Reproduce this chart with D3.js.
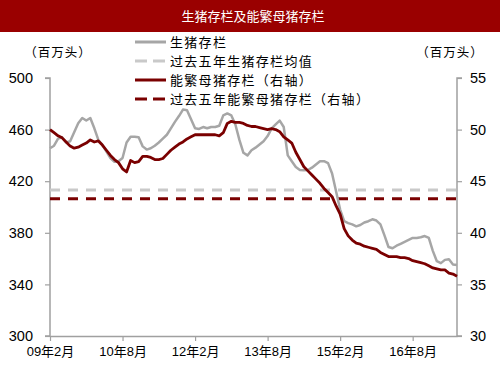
<!DOCTYPE html>
<html>
<head>
<meta charset="utf-8">
<script src="https://cdn.jsdelivr.net/npm/d3@7"></script>
<style>
    html, body { margin: 0; padding: 0; background: #fff; }
    svg { display: block; font-family: "Liberation Sans", Arial, "Noto Sans CJK SC", sans-serif; }
    .cjk { font-family: "Noto Sans CJK SC", sans-serif; }
</style>
</head>
<body>
<div id="chart"></div>
<script>
(function () {
    "use strict";

    // monthly, 09年2月 .. 17年7月
    const months = d3.timeMonth.range(new Date(2009, 1, 1), new Date(2017, 7, 1))
        .map(d => d3.timeFormat("%y")(d) + "年" + (d.getMonth() + 1) + "月");

    const tickIndex = [0, 18, 36, 54, 72, 90];

    // 生猪存栏 (百万头, left axis)
    const hogStock = [
        445.5, 447.5, 453, 454, 450, 451, 458, 465, 469, 467,
        469, 461, 452, 448, 443, 438, 435, 435.5, 438, 450,
        454.5, 454.5, 454, 447, 444.5, 445.5, 447.5, 450, 453, 456,
        461, 466, 470.5, 475.5, 475, 468, 461, 460.5, 462, 461,
        462, 462, 463, 471, 472.5, 471, 464, 452, 442, 440,
        444, 446, 448.5, 451, 455, 461, 464, 467, 462, 440,
        435.5, 431, 428.7, 428.5, 428.7, 430.5, 433, 435.5, 435.5, 434,
        426, 412, 398, 389, 387.5, 386.5, 385, 386, 388, 389,
        390.5, 389.5, 386.5, 378, 369, 368, 370, 371.5, 373, 374.5,
        376, 376, 376.5, 377.5, 376, 366, 358, 356.5, 359, 359.5,
        355.5, 355
    ];

    // 能繁母猪存栏 (百万头, right axis)
    const sowStock = [
        50.0, 49.7, 49.4, 49.2, 48.8, 48.4, 48.2, 48.3, 48.5, 48.7,
        49.0, 48.8, 48.9, 48.5, 48.0, 47.5, 47.1, 46.8, 46.2, 45.9,
        47.0, 46.8, 46.9, 47.4, 47.4, 47.3, 47.1, 47.1, 47.2, 47.6,
        48.0, 48.3, 48.6, 48.8, 49.1, 49.3, 49.5, 49.5, 49.5, 49.5,
        49.5, 49.5, 49.4, 49.7, 50.6, 50.8, 50.7, 50.7, 50.6, 50.4,
        50.3, 50.3, 50.2, 50.1, 50.0, 50.1, 50.0, 49.8, 49.3, 49.0,
        48.7, 47.8, 47.1, 46.4, 46.0, 45.6, 45.2, 44.8, 44.3, 43.9,
        43.5, 42.6, 41.8, 40.4, 39.7, 39.3, 39.0, 38.9, 38.7, 38.6,
        38.5, 38.4, 38.1, 37.9, 37.7, 37.7, 37.7, 37.6, 37.6, 37.5,
        37.3, 37.2, 37.1, 37.0, 36.8, 36.6, 36.5, 36.4, 36.4, 36.1,
        36.0, 35.8
    ];

    const hogAvg = 413.2;   // 过去五年生猪存栏均值
    const sowAvg = 43.3;    // 过去五年能繁母猪存栏

    const leftTicks = [300, 340, 380, 420, 460, 500];
    const rightTicks = [30, 35, 40, 45, 50, 55];

    const width = 500;
    const height = 375;
    const margin = { top: 78, right: 43, bottom: 39, left: 50 };

    const gray = "#a6a6a6";
    const grayDash = "#c9c9c9";
    const red = "#7a0000";
    const axisColor = "#a0a0a0";

    const svg = d3.select("#chart").append("svg")
        .attr("width", width)
        .attr("height", height);

    // title bar
    svg.append("rect")
        .attr("width", width)
        .attr("height", 32)
        .attr("fill", "#9a0000");

    svg.append("text")
        .attr("class", "cjk")
        .attr("x", 253)
        .attr("y", 21)
        .attr("text-anchor", "middle")
        .attr("fill", "#fff")
        .attr("font-size", 13)
        .text("生猪存栏及能繁母猪存栏");

    const x = d3.scaleLinear()
        .domain([0, months.length - 1])
        .range([margin.left, width - margin.right]);

    const yLeft = d3.scaleLinear()
        .domain([300, 500])
        .range([height - margin.bottom, margin.top]);

    const yRight = d3.scaleLinear()
        .domain([30, 55])
        .range([height - margin.bottom, margin.top]);

    // axes
    const leftAxis = svg.append("g")
        .attr("transform", `translate(${margin.left},0)`)
        .call(d3.axisLeft(yLeft).tickValues(leftTicks).tickSize(5).tickPadding(12));

    const rightAxis = svg.append("g")
        .attr("transform", `translate(${width - margin.right},0)`)
        .call(d3.axisRight(yRight).tickValues(rightTicks).tickSize(5).tickPadding(8));

    const bottomAxis = svg.append("g")
        .attr("transform", `translate(0,${height - margin.bottom})`)
        .call(d3.axisBottom(x).tickValues(tickIndex).tickFormat(i => months[i])
            .tickSize(5).tickPadding(6).tickSizeOuter(0));

    [leftAxis, rightAxis, bottomAxis].forEach(g => {
        g.select(".domain").attr("stroke", axisColor).attr("stroke-width", 1.5);
        g.selectAll(".tick line").attr("stroke", axisColor).attr("stroke-width", 1.2);
        g.selectAll(".tick text")
            .attr("fill", "#000")
            .attr("font-size", 14.5)
            .attr("font-family", "\"Liberation Sans\", Arial, sans-serif");
    });

    leftAxis.selectAll(".domain").attr("d", `M-5,${margin.top}H0V${height - margin.bottom}H-5`);
    rightAxis.selectAll(".domain").attr("d", `M5,${margin.top}H0V${height - margin.bottom}H5`);

    bottomAxis.selectAll(".tick text")
        .attr("font-size", 13)
        .attr("font-family", "\"Liberation Sans\", Arial, \"Noto Sans CJK SC\", sans-serif");

    // unit labels
    svg.append("text")
        .attr("class", "cjk")
        .attr("x", 58)
        .attr("y", 57)
        .attr("text-anchor", "middle")
        .attr("font-size", 12.5)
        .attr("letter-spacing", 1)
        .text("（百万头）");

    svg.append("text")
        .attr("class", "cjk")
        .attr("x", 450)
        .attr("y", 57)
        .attr("text-anchor", "middle")
        .attr("font-size", 12.5)
        .attr("letter-spacing", 1)
        .text("（百万头）");

    // average lines
    svg.append("line")
        .attr("x1", x(0)).attr("x2", x(months.length - 1))
        .attr("y1", yLeft(hogAvg)).attr("y2", yLeft(hogAvg))
        .attr("stroke", grayDash)
        .attr("stroke-width", 3)
        .attr("stroke-dasharray", "10,8");

    svg.append("line")
        .attr("x1", x(0)).attr("x2", x(months.length - 1))
        .attr("y1", yRight(sowAvg)).attr("y2", yRight(sowAvg))
        .attr("stroke", red)
        .attr("stroke-width", 3)
        .attr("stroke-dasharray", "10,8");

    // series
    const hogLine = d3.line()
        .x((d, i) => x(i))
        .y(d => yLeft(d));

    const sowLine = d3.line()
        .x((d, i) => x(i))
        .y(d => yRight(d));

    svg.append("path")
        .datum(hogStock)
        .attr("d", hogLine)
        .attr("fill", "none")
        .attr("stroke", gray)
        .attr("stroke-width", 2.5)
        .attr("stroke-linejoin", "round");

    svg.append("path")
        .datum(sowStock)
        .attr("d", sowLine)
        .attr("fill", "none")
        .attr("stroke", red)
        .attr("stroke-width", 2.8)
        .attr("stroke-linejoin", "round");

    // legend
    const legendItems = [
        { label: "生猪存栏", color: gray, dash: null },
        { label: "过去五年生猪存栏均值", color: grayDash, dash: "12,6" },
        { label: "能繁母猪存栏（右轴）", color: red, dash: null },
        { label: "过去五年能繁母猪存栏（右轴）", color: red, dash: "12,6" }
    ];

    const legend = svg.append("g")
        .selectAll("g")
        .data(legendItems)
        .join("g")
        .attr("transform", (d, i) => `translate(135,${42 + i * 19})`);

    legend.append("line")
        .attr("x1", 0).attr("x2", 31)
        .attr("stroke", d => d.color)
        .attr("stroke-width", 3)
        .attr("stroke-dasharray", d => d.dash);

    legend.append("text")
        .attr("class", "cjk")
        .attr("x", 35)
        .attr("y", 5)
        .attr("font-size", 13)
        .attr("letter-spacing", 1.3)
        .text(d => d.label);
}());
</script>
</body>
</html>
